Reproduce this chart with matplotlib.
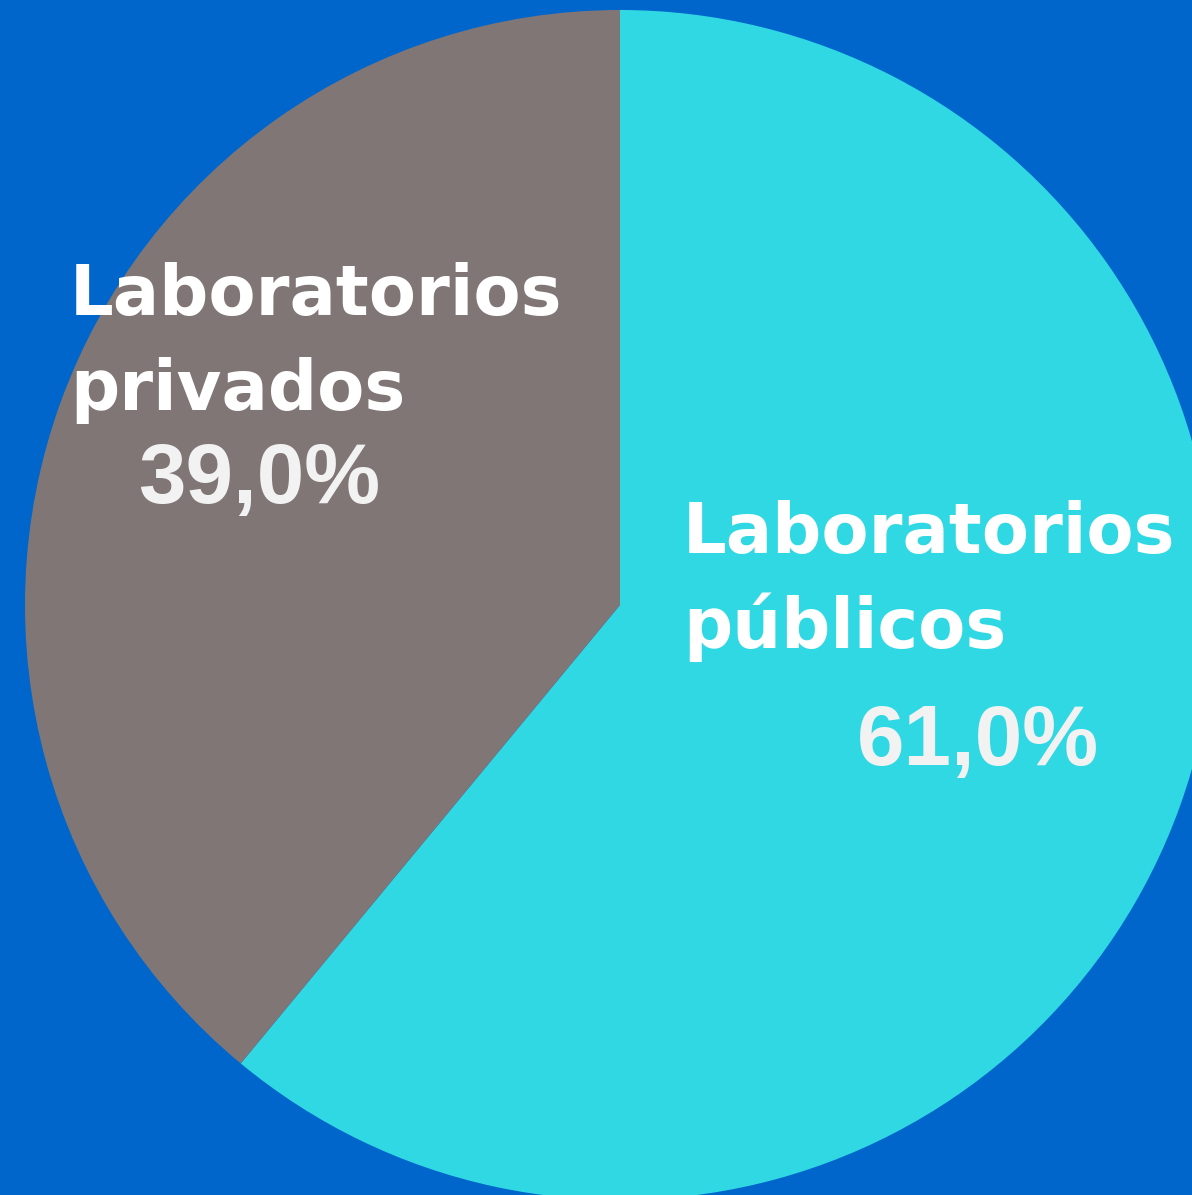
import matplotlib
matplotlib.use("Agg")
import matplotlib.pyplot as plt

# data
labels = ["Laboratorios\npúblicos", "Laboratorios\nprivados"]
shares = [61.0, 39.0]
pct_labels = ["61,0%", "39,0%"]
colors = ["#30d8e4", "#807676"]

W, H = 1192, 1195
BG = "#0066cc"

fig = plt.figure(figsize=(W / 100, H / 100), dpi=100, facecolor=BG)
ax = fig.add_axes([0, 0, 1, 1])
ax.set_facecolor(BG)

# pie drawn in pixel units (y measured from bottom)
cx, cy, r = 620, H - 605, 595
ax.pie(shares, colors=colors, startangle=90, counterclock=False,
       center=(cx, cy), radius=r, frame=True,
       wedgeprops=dict(linewidth=0))
ax.set_xlim(0, W)
ax.set_ylim(0, H)
ax.set_axis_off()

def ypx(y):
    return H - y

# category labels
label_pos = [(683, 553), (70, 315)]
for lab, (x, y) in zip(labels, label_pos):
    first, second = lab.split("\n")
    ax.text(x, ypx(y), first, color="white", fontsize=49.5,
            fontweight="bold", family="DejaVu Sans", va="baseline", ha="left")
    ax.text(x, ypx(y + 95), second, color="white", fontsize=49.5,
            fontweight="bold", family="DejaVu Sans", va="baseline", ha="left")

# percentage labels
pct_pos = [(857, 765), (138, 503)]
for p, (x, y) in zip(pct_labels, pct_pos):
    ax.text(x, ypx(y), p, color="#f2f2f2", fontsize=61.5, fontweight="bold",
            family="Liberation Sans", va="baseline", ha="left")

fig.savefig("out.png", dpi=100, facecolor=BG)
